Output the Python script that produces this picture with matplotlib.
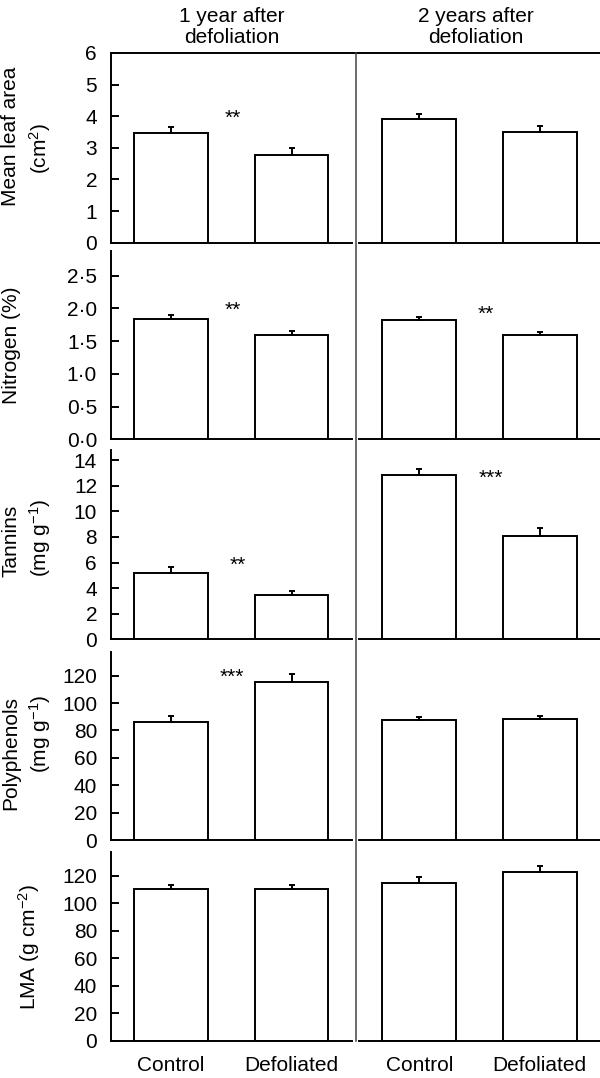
import matplotlib.pyplot as plt
from matplotlib.lines import Line2D

plt.rcParams['font.family'] = ['Liberation Sans', 'DejaVu Sans']
plt.rcParams['mathtext.fontset'] = 'custom'
plt.rcParams['mathtext.rm'] = 'Liberation Sans'
plt.rcParams['mathtext.it'] = 'Liberation Sans'

groups = ['Control', 'Defoliated']
columns = ['1 year after\ndefoliation', '2 years after\ndefoliation']

# mean values [1 year, 2 years]
leaf_area = [[3.47, 2.76], [3.90, 3.50]]
leaf_area_se = [[0.19, 0.22], [0.18, 0.19]]
nitrogen = [[1.835, 1.595], [1.825, 1.595]]
nitrogen_se = [[0.06, 0.06], [0.045, 0.045]]
tannins = [[5.2, 3.44], [12.84, 8.07]]
tannins_se = [[0.47, 0.33], [0.49, 0.60]]
polyphenols = [[86.4, 115.1], [87.6, 88.3]]
polyphenols_se = [[4.1, 6.1], [2.4, 2.2]]
lma = [[110.2, 110.2], [114.4, 122.8]]
lma_se = [[3.2, 3.2], [4.8, 4.2]]

means = [leaf_area, nitrogen, tannins, polyphenols, lma]
errors = [leaf_area_se, nitrogen_se, tannins_se, polyphenols_se, lma_se]
ylims = [6, 2.88, 14.8, 137.5, 137.5]
yticks = [[0, 1, 2, 3, 4, 5, 6],
          [0, 0.5, 1.0, 1.5, 2.0, 2.5],
          [0, 2, 4, 6, 8, 10, 12, 14],
          [0, 20, 40, 60, 80, 100, 120],
          [0, 20, 40, 60, 80, 100, 120]]
ytick_labels = [[str(t) for t in yticks[0]],
                ['0·0', '0·5', '1·0', '1·5', '2·0', '2·5'],
                [str(t) for t in yticks[2]],
                [str(t) for t in yticks[3]],
                [str(t) for t in yticks[4]]]

# (row, col, x, y, label) significance stars
stars = [(0, 0, 0.51, 4.1, '**'),
         (1, 0, 0.51, 2.04, '**'),
         (1, 1, 0.55, 1.98, '**'),
         (2, 0, 0.55, 6.14, '**'),
         (2, 1, 0.59, 12.97, '***'),
         (3, 0, 0.50, 122.4, '***')]

# y labels: (x px, y px, text)
ylabels = [[(11, 136, 'Mean leaf area'), (40, 148, '(cm$^2$)')],
           [(12, 345, 'Nitrogen (%)')],
           [(11, 541, 'Tannins'), (40, 538, '(mg g$^{-1}$)')],
           [(11, 753, 'Polyphenols'), (40, 734, '(mg g$^{-1}$)')],
           [(29, 947, 'LMA (g cm$^{-2}$)')]]

W, H = 600, 1078
fig = plt.figure(figsize=(W / 100, H / 100), dpi=100)

rows_px = [(53, 242.7), (250.7, 439.3), (450, 639.3), (651.7, 840), (851.7, 1040.5)]
cols_px = [(111, 351.7), (359, 600)]
lw = 1.4
fs = 15

axes = [[None, None] for _ in range(5)]
for r, (top, bot) in enumerate(rows_px):
    for c, (left, right) in enumerate(cols_px):
        ax = fig.add_axes([left / W, 1 - bot / H, (right - left) / W, (bot - top) / H])
        axes[r][c] = ax
        x = [0, 1]
        vals = means[r][c]
        errs = errors[r][c]
        ax.bar(x, vals, width=0.61, color='white', edgecolor='black',
               linewidth=lw, zorder=2)
        ax.errorbar(x, vals, yerr=[[0, 0], errs], fmt='none', ecolor='black',
                    elinewidth=lw, capsize=2, capthick=lw, zorder=3)
        ax.set_xlim(-0.5, 1.5)
        ax.set_ylim(0, ylims[r])
        for s in ['top', 'right']:
            ax.spines[s].set_visible(False)
        ax.spines['bottom'].set_linewidth(lw)
        ax.spines['left'].set_linewidth(lw)
        ax.tick_params(axis='x', length=0, labelsize=fs, pad=11)
        if r == 4:
            ax.set_xticks(x)
            ax.set_xticklabels(groups)
        else:
            ax.set_xticks([])
        if c == 0:
            ax.set_yticks(yticks[r])
            ax.set_yticklabels(ytick_labels[r])
            ax.tick_params(axis='y', direction='in', length=6, width=lw,
                           labelsize=fs, pad=10)
        else:
            ax.spines['left'].set_visible(False)
            ax.set_yticks([])
        ax.patch.set_alpha(0)

for r, c, sx, sy, label in stars:
    axes[r][c].annotate(label, (sx, sy), xytext=(0, -3.5),
                        textcoords='offset points', ha='center', va='center',
                        fontsize=15)

for items in ylabels:
    for px, py, label in items:
        fig.text(px / W, 1 - py / H, label, rotation=90, ha='center',
                 va='center', fontsize=fs)

for c, (left, right) in enumerate(cols_px):
    cx = (left + right) / 2 if c == 0 else 476
    fig.text(cx / W, 1 - 43 / H, columns[c], ha='center', va='baseline',
             fontsize=15, linespacing=1.15)

# top frame line and column divider
fig.add_artist(Line2D([111 / W, 1.0], [1 - 53 / H, 1 - 53 / H], color='black',
                      linewidth=lw))
fig.add_artist(Line2D([355.5 / W, 355.5 / W], [1 - 53 / H, 1 - 1041 / H],
                      color='#444444', linewidth=1.1))

fig.savefig('out.png', dpi=100)
